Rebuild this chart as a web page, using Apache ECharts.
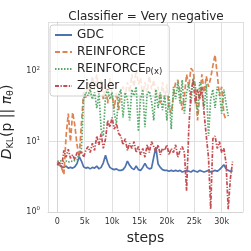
<!DOCTYPE html>
<html><head><meta charset="utf-8">
<script src="https://cdn.jsdelivr.net/npm/echarts@6/dist/echarts.min.js"></script>
<style>html,body{margin:0;padding:0;background:#fff}#c{width:251px;height:251px}</style>
</head><body><div id="c"></div>
<script>
const steps = [0,400,800,1200,1600,2000,2400,2800,3200,3600,4000,4400,4800,5200,5600,6000,6400,6800,7200,7600,8000,8400,8800,9200,9600,10000,10400,10800,11200,11600,12000,12400,12800,13200,13600,14000,14400,14800,15200,15600,16000,16400,16800,17200,17600,18000,18400,18800,19200,19600,20000,20400,20800,21200,21600,22000,22400,22800,23200,23600,24000,24400,24800,25200,25600,26000,26400,26800,27200,27600,28000,28400,28800,29200,29600,30000,30400,30800,31200,31600,32000];
const gdc = [5.0,4.6,4.4,4.3,4.5,4.2,4.3,4.2,4.4,4.9,6.1,5.3,4.4,4.2,4.3,4.1,4.3,4.2,4.5,4.1,4.3,5.0,6.4,5.0,4.3,4.1,4.0,4.1,3.9,3.9,4.0,4.4,5.3,4.6,4.2,4.0,4.5,4.0,3.9,4.3,4.9,4.3,4.1,4.2,6.0,8.3,4.8,4.3,4.0,3.9,3.9,3.8,3.9,3.8,3.9,3.8,3.9,3.7,3.8,3.9,3.8,3.7,3.9,3.8,3.7,3.9,3.8,3.7,3.8,3.9,3.7,3.8,3.9,3.8,4.0,4.3,4.7,4.1,3.9,3.8,3.8];
const reinforce = [5.2,4.8,4.2,3.4,12,25,10,26,17,9,6,18,50,42,70,45,85,55,90,48,75,40,65,35,80,45,30,50,28,55,60,45,70,50,90,60,105,65,80,45,70,50,85,55,75,45,60,35,70,40,65,30,25,45,70,75,50,28,45,90,60,110,100,60,20,45,90,50,85,60,80,120,170,90,45,60,25,20];
const reinforcePx = [5.3,5.2,5.4,5.2,5.3,5.1,5.3,5.2,5.4,5.5,6.8,8,40,50,45,55,40,50,30,48,15,12,45,55,40,50,25,18,45,55,22,50,40,20,55,45,60,14,40,55,16,48,52,38,20,55,30,50,28,45,20,45,15,60,40,70,35,75,25,50,65,35,80,60,25,70,50,30,65,12,40,55,30,60,50,25,55,35,23];
const ziegler = [4.6,5.2,4.3,7.5,6.0,7.8,5.8,6.5,5.5,7.0,6.5,7.2,6.0,7.5,8.5,7.0,9.5,7.5,12,9,13,8,11,20,16,22,15,18,13,12,9,11,7.5,9.5,8,10,7,8.5,6.5,8,6,9,7,10,8.5,7,9,6.5,8,7.5,9,6.5,8,7,9,6,7.5,8.5,7,2.0,15,50,75,35,55,40,60,25,12,6,1.1,11,12,8,10,7,8,5,1.1,3,5.2];
const xTicks = [0,5000,10000,15000,20000,25000,30000];
const xTickLabels = ['0','5k','10k','15k','20k','25k','30k'];
const yTicks = [1,10,100];

const pair = v => v.map((y,i)=>[steps[i], y]);
const chart = echarts.init(document.getElementById('c'), null, {renderer:'canvas'});
const F = 'DejaVu Sans';
const mk = (name, data, color, type, z) => ({
  name, type:'line', data: pair(data), symbol:'none', z,
  lineStyle:{color, width:1.7, type}, itemStyle:{color}
});
chart.setOption({
  animation:false,
  title:{text:'Classifier = Very negative', left:141, textAlign:'center', top:6,
    textStyle:{fontFamily:F, fontSize:12, fontWeight:'normal', color:'#262626'}},
  grid:{left:48, right:8, top:22, bottom:39, containLabel:false, outerBoundsMode:'none'},
  legend:{
    left:50, top:25, orient:'vertical', itemWidth:17, itemHeight:10, itemGap:3,
    backgroundColor:'rgba(255,255,255,0.8)', borderColor:'#d0d0d0', borderWidth:1, borderRadius:3,
    padding:[3,7,3,4],
    itemStyle:{opacity:0},
    textStyle:{fontFamily:F, fontSize:12, color:'#262626', lineHeight:14,
      rich:{a:{fontFamily:F, fontSize:12, color:'#262626', lineHeight:14}, s:{fontFamily:F, fontSize:8.5, color:'#262626', lineHeight:9, padding:[5,0,0,0]}}},
    formatter: n => n === 'REINFORCE_Px' ? '{a|REINFORCE}{s|P(x)}' : n,
    data:['GDC','REINFORCE','REINFORCE_Px','Ziegler']
  },
  xAxis:{type:'value', min:-1700, max:33900, splitNumber:7,
    name:'steps', nameLocation:'middle', nameGap:17,
    nameTextStyle:{fontFamily:F, fontSize:14, color:'#262626'},
    axisLine:{show:true, lineStyle:{color:'#d5d5d5'}}, axisTick:{show:false},
    splitLine:{show:true, lineStyle:{color:'#e0e0e0', width:1}},
    axisLabel:{fontFamily:F, fontSize:8, color:'#333', margin:6, showMinLabel:false, showMaxLabel:false,
      formatter: v => { const k = xTicks.indexOf(v); return k >= 0 ? xTickLabels[k] : ''; }}
  },
  yAxis:{type:'log', logBase:10, min:1, max:500,
    name:'{i|D}{sb|KL}{n|(p || }{i|π}{sb|θ}{n|)}', nameLocation:'middle', nameGap:13, nameRotate:90,
    nameTextStyle:{fontFamily:F, fontSize:14, color:'#262626', padding:[0,10,0,0],
      rich:{
        i:{fontFamily:F, fontSize:14, fontStyle:'italic', color:'#262626'},
        n:{fontFamily:F, fontSize:14, color:'#262626'},
        sb:{fontFamily:F, fontSize:9.5, color:'#262626', padding:[6,0,0,0]}
      }},
    axisLine:{show:true, lineStyle:{color:'#d5d5d5'}}, axisTick:{show:false}, minorTick:{show:false},
    splitLine:{show:true, lineStyle:{color:'#e0e0e0', width:1}},
    axisLabel:{fontFamily:F, fontSize:8, color:'#333', margin:8, showMaxLabel:false,
      formatter: v => { const k = yTicks.indexOf(Math.round(v*1000)/1000); return k >= 0 ? '{b|10}{s|' + k + '}' : ''; },
      rich:{b:{fontFamily:F, fontSize:8, color:'#333'}, s:{fontFamily:F, fontSize:5.5, color:'#333', padding:[0,0,6,0]}}}
  },
  series:[
    mk('GDC', gdc, '#4c72b0', 'solid', 2),
    mk('REINFORCE', reinforce, '#dd8452', [5,2.5], 3),
    mk('REINFORCE_Px', reinforcePx, '#55a868', [1.5,1.5], 4),
    mk('Ziegler', ziegler, '#c44e52', [4,1.5,1.3,1.5], 5)
  ]
});
</script></body></html>
